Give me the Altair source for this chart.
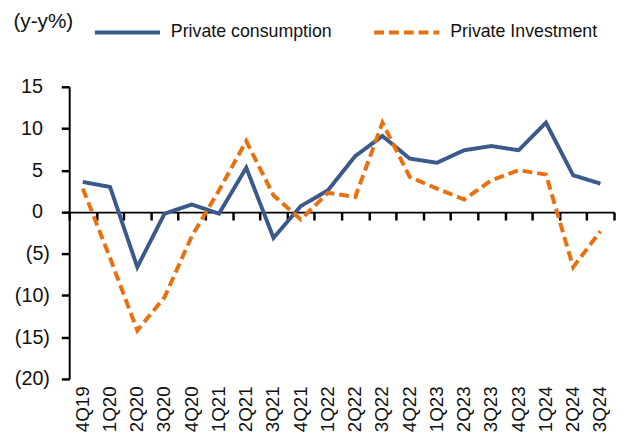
import altair as alt
import pandas as pd

quarters = ['4Q19', '1Q20', '2Q20', '3Q20', '4Q20', '1Q21', '2Q21', '3Q21', '4Q21', '1Q22',
            '2Q22', '3Q22', '4Q22', '1Q23', '2Q23', '3Q23', '4Q23', '1Q24', '2Q24', '3Q24']
consumption = [3.6, 3.0, -6.6, -0.2, 0.9, -0.2, 5.3, -3.1, 0.7, 2.6,
               6.7, 9.1, 6.4, 5.9, 7.4, 7.9, 7.4, 10.7, 4.4, 3.4]
investment = [2.8, -5.5, -14.2, -10.2, -2.9, 2.6, 8.5, 2.0, -0.9, 2.3,
              1.8, 10.7, 4.2, 2.8, 1.5, 3.8, 5.0, 4.5, -6.6, -2.3]
series_names = ['Private consumption', 'Private Investment']
y_ticks = [-20, -15, -10, -5, 0, 5, 10, 15]

rows = []
for q, c, i in zip(quarters, consumption, investment):
    rows.append({'quarter': q, 'series': series_names[0], 'value': c})
    rows.append({'quarter': q, 'series': series_names[1], 'value': i})
df = pd.DataFrame(rows)

FONT = 'Liberation Sans'
BLUE = '#3B5A8B'
ORANGE = '#E8700F'
TXT = '#111111'

xscale = alt.Scale(type='band', paddingInner=0, paddingOuter=0)
yscale = alt.Scale(domain=[-20, 15], nice=False, zero=False)

yaxis = alt.Axis(
    values=y_ticks,
    labelExpr="datum.value < 0 ? '(' + format(-datum.value, 'd') + ')' : format(datum.value, 'd')",
    labelFont=FONT, labelFontSize=20, labelColor=TXT,
    labelPadding={'condition': {'test': 'datum.value < 0', 'value': 12}, 'value': 19},
    domain=True, domainColor='#000000', domainWidth=2,
    ticks=True, tickColor='#000000', tickWidth=2.5, tickSize=8,
    grid=False,
    title='(y-y%)', titleAngle=0, titleAlign='left', titleBaseline='middle',
    titleX=-57, titleY=-66, titleFont=FONT, titleFontSize=21, titleFontWeight='normal',
    titleColor=TXT,
)

legend = alt.Legend(
    orient='none', legendX=24, legendY=-90, direction='horizontal', title=None,
    symbolType='stroke', symbolSize=4356, symbolStrokeWidth=4,
    labelFont=FONT, labelFontSize=18, labelColor=TXT, labelOffset=9, labelLimit=0,
    columnPadding=34, padding=0,
)

lines = alt.Chart(df).mark_line(strokeWidth=4, strokeJoin='miter').encode(
    x=alt.X('quarter:N', sort=quarters, scale=xscale, bandPosition=0.5,
            axis=alt.Axis(orient='bottom', domain=False, ticks=False, tickSize=0,
                          labelAngle=-90, labelFont=FONT, labelFontSize=19,
                          labelColor=TXT, labelPadding=7, title=None)),
    y=alt.Y('value:Q', scale=yscale, axis=yaxis),
    color=alt.Color('series:N', sort=series_names,
                    scale=alt.Scale(domain=series_names, range=[BLUE, ORANGE]),
                    legend=legend),
    strokeDash=alt.StrokeDash('series:N', sort=series_names,
                              scale=alt.Scale(domain=series_names, range=[[1, 0], [10, 5]]),
                              legend=legend),
)

zero_axis = alt.Chart(df).mark_line(opacity=0).encode(
    x=alt.X('quarter:N', sort=quarters, scale=xscale, bandPosition=0.5,
            axis=alt.Axis(orient='bottom', offset=-169, labels=False,
                          domain=True, domainColor='#000000', domainWidth=2,
                          ticks=True, tickColor='#000000', tickWidth=2.5, tickSize=8,
                          tickBand='extent', title=None)),
    y=alt.Y('value:Q', scale=yscale, axis=yaxis),
    detail='series:N',
)

chart = alt.layer(zero_axis, lines).resolve_axis(x='independent').properties(
    width=552, height=296,
    autosize=alt.AutoSizeParams(type='none'),
    padding={'left': 62, 'top': 77, 'right': 2, 'bottom': 55},
).configure_view(stroke=None)

chart.save("out.html", embed_options={"renderer": "svg", "actions": False})
